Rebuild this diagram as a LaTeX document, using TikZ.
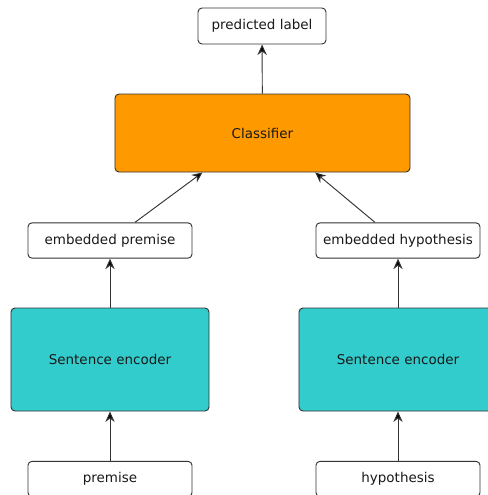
\documentclass[tikz,border=0pt]{standalone}
\usepackage{fontspec}
\setmainfont{DejaVu Sans}
\usetikzlibrary{arrows.meta}
\definecolor{clsorange}{HTML}{FF9900}
\definecolor{enccyan}{HTML}{33CCCC}
\definecolor{edgegray}{HTML}{333333}

\begin{document}
\begin{tikzpicture}[x=0.03cm, y=-0.03cm,
    box/.style = {draw=edgegray, line width=0.8pt, rounded corners=0.12cm, inner sep=0pt,
      font=\fontsize{11.5}{14}\selectfont, text=black!90},
    small/.style = {box, fill=white, minimum width=4.92cm, minimum height=1.06cm},
    encbox/.style = {box, fill=enccyan, minimum width=5.94cm, minimum height=3.09cm},
    arr/.style = {draw=edgegray, line width=0.8pt, -{Stealth[length=9pt,width=8pt,inset=3pt,fill=black]}}]
  \useasboundingbox (0,0) rectangle (488,495);
  \clip (0,0) rectangle (488,495);
  % top
  \node[box, fill=white, minimum width=3.84cm, minimum height=1.08cm] (label) at (262,26) {predicted label};
  \node[box, fill=clsorange, minimum width=8.85cm, minimum height=2.34cm] (cls) at (262.5,133) {Classifier};
  % premise side
  \node[small] (embp) at (110,240.5) {embedded premise};
  \node[encbox] (encp) at (110,359.5) {Sentence encoder};
  \node[small] (prem) at (110,479) {premise};
  % hypothesis side
  \node[small] (embh) at (398,240.5) {embedded hypothesis};
  \node[encbox] (ench) at (398,359.5) {Sentence encoder};
  \node[small] (hyp) at (398,479) {hypothesis};
  % arrows
  \draw[arr] (cls) -- (label);
  \draw[arr] ([xshift=0.75cm]embp.north) -- ([xshift=-1.8cm]cls.south);
  \draw[arr] ([xshift=-0.69cm]embh.north) -- ([xshift=1.58cm]cls.south);
  \draw[arr] (encp) -- (embp);
  \draw[arr] (ench) -- (embh);
  \draw[arr] (prem) -- (encp);
  \draw[arr] (hyp) -- (ench);
\end{tikzpicture}
\end{document}
